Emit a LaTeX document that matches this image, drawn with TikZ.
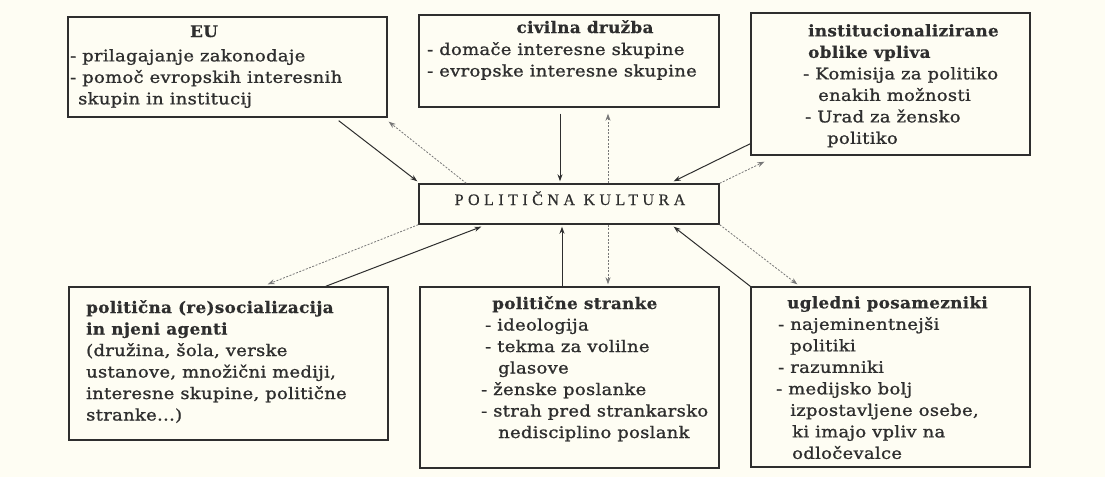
\documentclass[tikz,border=0pt]{standalone}
\usepackage{fontspec}
\usetikzlibrary{arrows.meta}
\setmainfont{DejaVu Serif}
\newfontfamily\bodyf[FakeStretch=1.12,LetterSpace=2,FakeBold=1.2]{DejaVu Serif}
\newfontfamily\headf[FakeStretch=1.05,LetterSpace=2,FakeBold=0.5]{DejaVu Serif Bold}
\newfontfamily\capf[LetterSpace=28,FakeBold=0.4]{Liberation Serif}
\definecolor{paper}{HTML}{FEFDF3}
\definecolor{ink}{HTML}{2E2E2E}
\definecolor{lightink}{HTML}{777777}
\newcommand{\tstrut}{\rule{0pt}{12pt}}
\newcommand{\hd}[1]{{\headf #1}}
\begin{document}
\begin{tikzpicture}[x=1pt,y=-1pt,
  frame/.style={draw=ink,line width=1.4pt,rectangle,inner sep=0pt},
  txt/.style={anchor=north west,inner sep=0pt,align=left,text=ink,font=\bodyf\fontsize{16}{21.5}\selectfont},
  head/.style={anchor=base,inner sep=0pt,text=ink,font=\headf\fontsize{16}{21.5}\selectfont},
  solidarrow/.style={draw=ink,line width=1pt,-{Stealth[length=7pt,width=5pt]}},
  dotarrow/.style={draw=lightink,line width=0.8pt,dash pattern=on 2pt off 1.5pt,-{Stealth[length=7pt,width=5pt]}}]
\fill[paper] (0,0) rectangle (1105,477);
\useasboundingbox (0,0) rectangle (1105,477);
% boxes
\node[frame,minimum width=319pt,minimum height=100pt] (eu) at (227.5,67) {};
\node[frame,minimum width=300pt,minimum height=92pt] (civ) at (569,61) {};
\node[frame,minimum width=279pt,minimum height=142pt] (ins) at (890.5,84) {};
\node[frame,minimum width=300pt,minimum height=40pt] (pk) at (569,204) {};
\node[frame,minimum width=319pt,minimum height=153pt] (soc) at (228.5,363.5) {};
\node[frame,minimum width=299pt,minimum height=181pt] (str) at (569.5,377.5) {};
\node[frame,minimum width=279pt,minimum height=180pt] (ugl) at (890.5,377) {};
% texts
\node[head] (euh) at (204,37) {EU};
\node[txt] (eub) at (70,49) {\tstrut- prilagajanje zakonodaje\\- pomoč evropskih interesnih\\\hspace*{8pt}skupin in institucij};
\node[head] (civh) at (585,33) {civilna družba};
\node[txt] (civb) at (427,42) {\tstrut- domače interesne skupine\\- evropske interesne skupine};
\node[txt] (insb) at (803,24) {\tstrut\hspace*{5pt}\hd{institucionalizirane}\\\hspace*{5pt}\hd{oblike vpliva}\\- Komisija za politiko\\\hspace*{15pt}enakih možnosti\\\hspace*{2pt}- Urad za žensko\\\hspace*{24pt}politiko};
\node[anchor=base,inner sep=0pt,text=ink,font=\capf\fontsize{16}{18}\selectfont] (pkt) at (570,205) {POLITIČNA KULTURA};
\node[txt] (socb) at (86,300) {\tstrut\hd{politična (re)socializacija}\\\hd{in njeni agenti}\\(družina, šola, verske\\ustanove, množični mediji,\\interesne skupine, politične\\stranke...)};
\node[txt] (strb) at (481,296) {\tstrut\hspace*{11pt}\hd{politične stranke}\\\hspace*{4pt}- ideologija\\\hspace*{4pt}- tekma za volilne\\\hspace*{17pt}glasove\\- ženske poslanke\\- strah pred strankarsko\\\hspace*{17pt}nedisciplino poslank};
\node[txt] (uglb) at (776,296) {\tstrut\hspace*{11pt}\hd{ugledni posamezniki}\\\hspace*{2pt}- najeminentnejši\\\hspace*{14pt}politiki\\\hspace*{2pt}- razumniki\\- medijsko bolj\\\hspace*{14pt}izpostavljene osebe,\\\hspace*{16pt}ki imajo vpliv na\\\hspace*{16pt}odločevalce};
% connectors
\draw[solidarrow] ([xshift=-49pt,yshift=-3pt]eu.south east) -- ([xshift=-1pt,yshift=2pt]pk.north west);
\draw[dotarrow] ([xshift=48pt]pk.north west) -- ([xshift=1pt,yshift=-4pt]eu.south east);
\draw[solidarrow] ([xshift=-9pt,yshift=-6pt]civ.south) -- ([xshift=-9pt,yshift=2pt]pk.north);
\draw[dotarrow] ([xshift=39pt]pk.north) -- ([xshift=39pt,yshift=-6pt]civ.south);
\draw[solidarrow] ([yshift=12pt]ins.south west) -- ([xshift=-46pt,yshift=2pt]pk.north east);
\draw[dotarrow] (pk.north east) -- ([xshift=14pt,yshift=-6pt]ins.south west);
\draw[dotarrow] (pk.south west) -- ([xshift=-121pt,yshift=2pt]soc.north east);
\draw[solidarrow] ([xshift=-63pt]soc.north east) -- ([xshift=63pt,yshift=-2pt]pk.south west);
\draw[solidarrow] ([xshift=-7.5pt]str.north) -- ([xshift=-7pt,yshift=-2pt]pk.south);
\draw[dotarrow] ([xshift=39pt]pk.south) -- ([xshift=38.5pt,yshift=2pt]str.north);
\draw[solidarrow] (ugl.north west) -- ([xshift=-46pt,yshift=-2pt]pk.south east);
\draw[dotarrow] (pk.south east) -- ([xshift=47pt,yshift=2pt]ugl.north west);
\end{tikzpicture}
\end{document}
